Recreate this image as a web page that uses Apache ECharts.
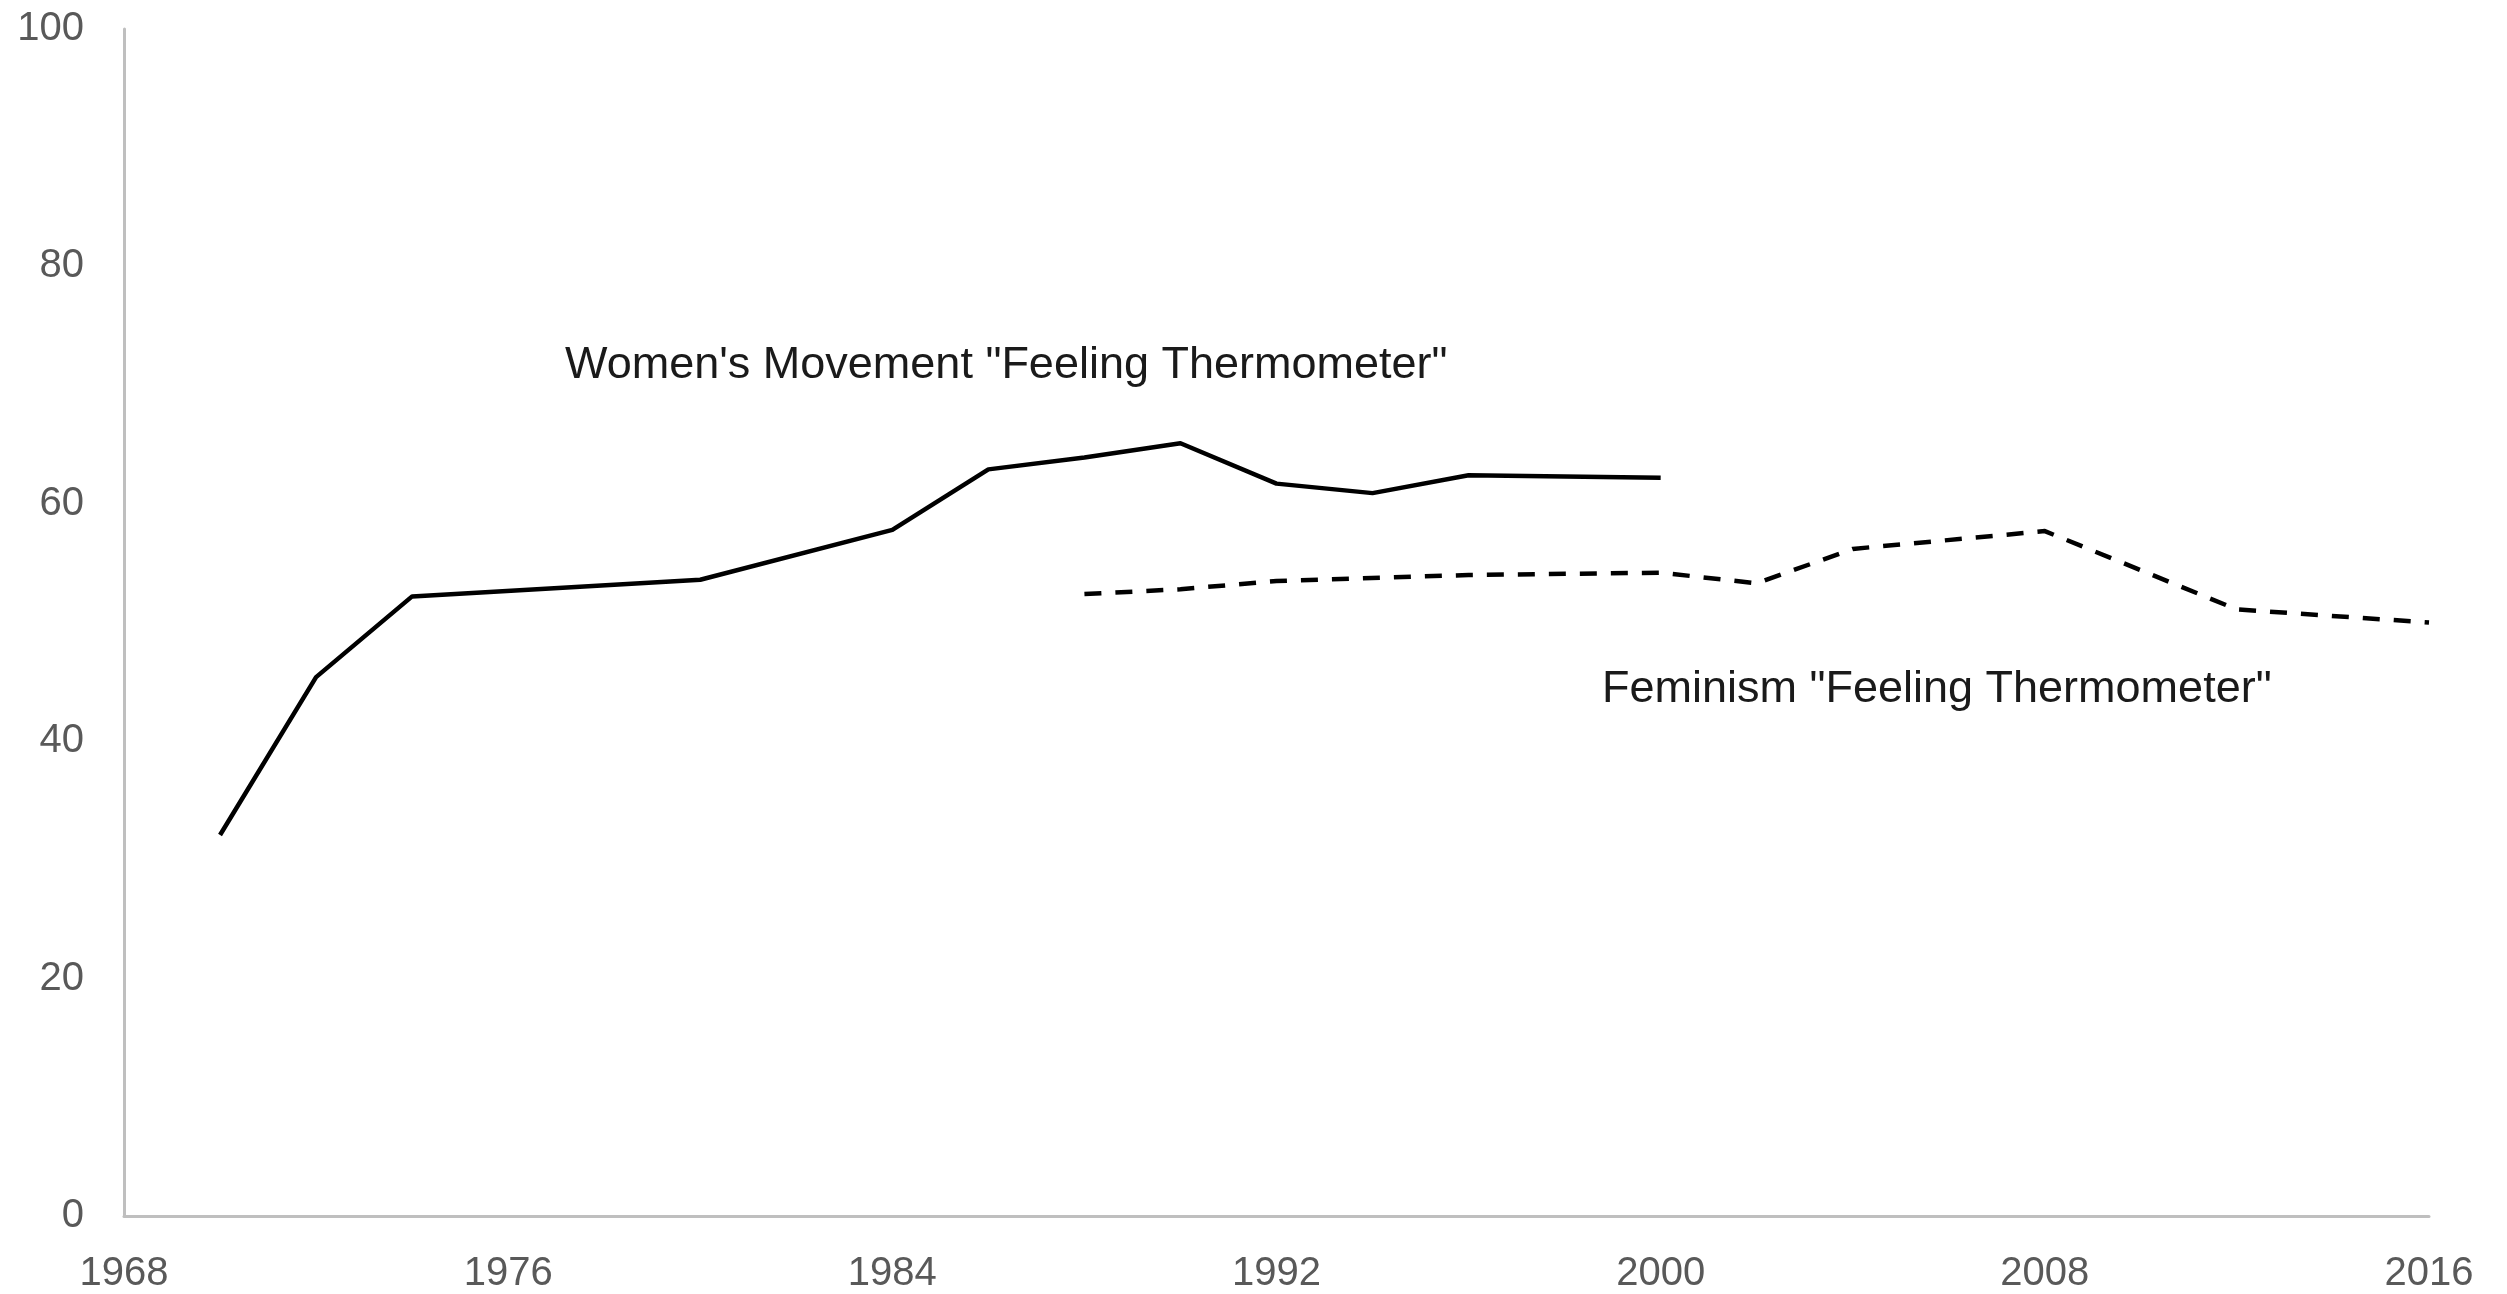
<!DOCTYPE html>
<html>
<head>
<meta charset="utf-8">
<title>Feeling Thermometer</title>
<script src="https://cdn.jsdelivr.net/npm/echarts@6.0.0/dist/echarts.min.js"></script>
<style>
    html, body { margin: 0; padding: 0; background: #fff; }
    #thermoChart { width: 2507px; height: 1294px; }
</style>
</head>
<body>
<div id="thermoChart"></div>
<script>
// 妇女运动 温度计
var womenYears = [1970, 1972, 1974, 1980, 1984, 1986, 1988, 1990, 1992, 1994, 1996, 2000];
var womenValues = [32.1, 45.4, 52.2, 53.6, 57.8, 62.9, 63.9, 65.1, 61.7, 60.9, 62.4, 62.2];

// 女权主义 温度计
var feminismYears = [1988, 1990, 1992, 1996, 2000, 2002, 2004, 2008, 2012, 2016];
var feminismValues = [52.4, 52.8, 53.5, 54.0, 54.2, 53.3, 56.2, 57.7, 51.1, 50.0];

var xTicks = [1968, 1976, 1984, 1992, 2000, 2008, 2016];
var yTicks = [0, 20, 40, 60, 80, 100];

var womenLabel = 'Women\'s Movement "Feeling Thermometer"';
var feminismLabel = 'Feminism "Feeling Thermometer"';

function toPairs(xs, ys) {
    var out = [];
    for (var i = 0; i < xs.length; i++) {
        out.push([xs[i], ys[i]]);
    }
    return out;
}

var fontName = 'Liberation Sans';

var thermoChart = echarts.init(document.getElementById('thermoChart'));

var option = {
    backgroundColor: '#ffffff',
    animation: false,
    grid: {
        left: 124,
        right: 78,
        top: 29,
        bottom: 75,
        containLabel: false
    },
    xAxis: {
        type: 'value',
        min: xTicks[0],
        max: xTicks[xTicks.length - 1],
        interval: 8,
        axisLine: { show: true, lineStyle: { color: '#bfbfbf', width: 3 } },
        axisTick: { show: false },
        splitLine: { show: false },
        axisLabel: {
            color: '#595959',
            fontFamily: fontName,
            fontSize: 40,
            margin: 38,
            formatter: function (v) { return String(v); }
        }
    },
    yAxis: {
        type: 'value',
        min: yTicks[0],
        max: yTicks[yTicks.length - 1],
        interval: 20,
        axisLine: { show: true, lineStyle: { color: '#bfbfbf', width: 3 } },
        axisTick: { show: false },
        splitLine: { show: false },
        axisLabel: {
            color: '#595959',
            fontFamily: fontName,
            fontSize: 40,
            margin: 40
        }
    },
    series: [
        {
            name: 'women',
            type: 'line',
            data: toPairs(womenYears, womenValues),
            showSymbol: false,
            lineStyle: { color: '#000000', width: 4.5, join: 'round' }
        },
        {
            name: 'feminism',
            type: 'line',
            data: toPairs(feminismYears, feminismValues),
            showSymbol: false,
            lineStyle: { color: '#000000', width: 4.5, type: [17, 14], join: 'round' }
        }
    ],
    graphic: [
        {
            type: 'text',
            left: 565,
            top: 343,
            style: {
                text: womenLabel,
                fill: '#1a1a1a',
                font: '45px "' + fontName + '"'
            }
        },
        {
            type: 'text',
            left: 1602,
            top: 667,
            style: {
                text: feminismLabel,
                fill: '#1a1a1a',
                font: '45px "' + fontName + '"'
            }
        }
    ]
};

thermoChart.setOption(option);
</script>
</body>
</html>
